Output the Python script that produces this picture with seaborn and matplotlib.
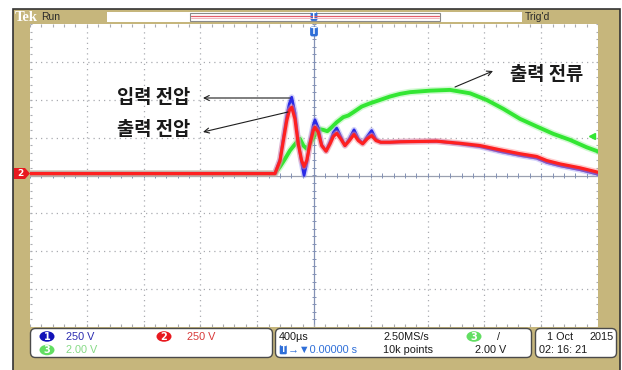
import numpy as np
import pandas as pd
import matplotlib
matplotlib.use("Agg")
import matplotlib.pyplot as plt
from matplotlib.patches import Rectangle, FancyBboxPatch, Ellipse, Polygon
import seaborn as sns

# ---- acquisition settings -------------------------------------------------
TIME_PER_DIV = 400          # µs / div
CH12_SCALE = 250.0          # V / div  (channels 1 and 2)
CH3_SCALE = 2.0             # V / div  (channel 3, current probe)
GROUND_DIV = 0.05           # ground reference, divisions above centre
CH3_TRIGGER_LEVEL = 2.00    # V

# ---- captured waveforms ---------------------------------------------------
# time axis shared by channel 1 (input voltage) and channel 2 (output voltage), µs
t_volt = [-2000, -275, -239, -216, -192, -174, -157, -134, -111, -87, -70, -51,
          -28, -5, 7, 30, 54, 85, 113, 136, 160, 188, 218, 249, 282, 312, 343,
          375, 406, 437, 470, 535, 606, 723, 864, 1028, 1169, 1310, 1451, 1568,
          1639, 1732, 1873, 2000]
# channel 1: input voltage, V
ch1_input_v = [0, 0, 95, 235, 380, 460, 504, 400, 210, 70, -12, 70,
               210, 320, 355, 300, 190, 150, 210, 270, 300, 245, 185, 230, 289, 230, 200,
               245, 284, 225, 207, 207, 210, 212, 214, 196, 178, 146, 120, 102,
               74, 52, 26, -4]
# channel 2: output voltage, V
ch2_output_v = [0, 0, 86, 218, 350, 416, 438, 361, 197, 86, 47, 86,
                197, 284, 306, 273, 185, 148, 197, 245, 266, 230, 185, 218, 258, 218, 197,
                230, 251, 218, 207, 207, 210, 212, 214, 200, 185, 157, 131, 113,
                86, 64, 38, 9]
# channel 3: output current (probe output), V
t_curr = [-2000, -275, -239, -204, -169, -122, -99, -75, -51, -28, 7, 30, 65, 94,
          125, 160, 206, 242, 277, 336, 394, 465, 535, 606, 676, 817, 958, 1099,
          1216, 1333, 1451, 1568, 1685, 1803, 1920, 2000]
ch3_current_v = [0, 0, 0.37, 0.78, 1.22, 1.66, 1.84, 1.48, 1.31, 1.57, 2.06, 2.36, 2.31, 2.24,
                 2.45, 2.71, 2.98, 3.07, 3.24, 3.54, 3.71, 3.89, 4.07, 4.21, 4.30, 4.38, 4.42, 4.24,
                 3.89, 3.42, 2.89, 2.49, 2.10, 1.78, 1.39, 1.17]

# ---- fonts ----------------------------------------------------------------
sns.set_theme(style="white")
KOR = ["Noto Sans CJK KR", "DejaVu Sans"]
UI = ["Liberation Sans", "DejaVu Sans"]
plt.rcParams["font.family"] = KOR

TAN = "#C6B67C"
RED, RED_HALO = "#FF2020", "#FF8C8C"
BLUE, BLUE_HALO = "#2A2AE6", "#9A9AF4"
GREEN, GREEN_HALO = "#33E633", "#9CF29C"

fig = plt.figure(figsize=(6.22, 3.70), dpi=100)
fig.patch.set_facecolor("white")

# pixel-space canvas for the instrument bezel
bg = fig.add_axes([0, 0, 1, 1])
bg.set_xlim(0, 622)
bg.set_ylim(370, 0)
bg.axis("off")

bg.add_patch(Rectangle((13, 9), 607, 380, facecolor=TAN, edgecolor="#333333", lw=1.2))

# top status bar
bg.text(15, 17.5, "Tek", color="white", fontsize=10.5, fontweight="bold",
        family=["Liberation Serif", "DejaVu Serif"], va="center", ha="left")
bg.text(41, 16.5, "Run", color="#2a2a2a", fontsize=7.5, family=UI, va="center", ha="left")
bg.add_patch(Rectangle((107, 11.5), 415, 10, facecolor="white", edgecolor="none"))
bg.add_patch(Rectangle((190, 12.5), 250, 8, facecolor="white", edgecolor="#8a8a8a", lw=0.8))
bg.plot([191, 439], [15.5, 15.5], color="#E35C6A", lw=0.9)
bg.plot([191, 439], [18.0, 18.0], color="#F2B5BC", lw=0.7)
bg.add_patch(FancyBboxPatch((311, 12.5), 6, 8, boxstyle="round,pad=0.4,rounding_size=1.5",
                            facecolor="#2F6FD8", edgecolor="none"))
bg.text(314, 16.5, "T", color="white", fontsize=5.5, fontweight="bold", ha="center",
        va="center", family="DejaVu Sans")
bg.text(525, 16.5, "Trig'd", color="#2a2a2a", fontsize=7.5, family=UI, va="center", ha="left")

# ---- waveform area ----------------------------------------------------------
L, T_, R, B = 30, 24, 598, 327
ax = fig.add_axes([L / 622, 1 - B / 370, (R - L) / 622, (B - T_) / 370])
ax.set_facecolor("white")
ax.set_xlim(-5 * TIME_PER_DIV, 5 * TIME_PER_DIV)
ax.set_ylim(-4, 4)
for s in ax.spines.values():
    s.set_visible(False)
ax.set_xticks([])
ax.set_yticks([])

GRID = "#A9ABB0"
for k in range(-4, 5):
    if k:
        ax.axvline(k * TIME_PER_DIV, color=GRID, lw=0.9, ls=(0, (1, 3.2)), zorder=0)
for k in range(-3, 4):
    if k:
        ax.axhline(k, color=GRID, lw=0.9, ls=(0, (1, 3.2)), zorder=0)
ax.axvline(0, color="#8391B5", lw=0.9, zorder=0)
ax.axhline(0, color="#9AA0B0", lw=0.9, zorder=0)

minor_t = np.arange(-5 * TIME_PER_DIV, 5 * TIME_PER_DIV + 1, TIME_PER_DIV / 5)
minor_y = np.arange(-4, 4.001, 0.2)
ax.vlines(minor_t, -0.07, 0.07, color="#8391B5", lw=0.7, zorder=0)
ax.hlines(minor_y, -14, 14, color="#8391B5", lw=0.7, zorder=0)
ax.vlines(minor_t, 3.91, 4, color=GRID, lw=0.8, zorder=0)
ax.vlines(minor_t, -4, -3.91, color=GRID, lw=0.8, zorder=0)
ax.hlines(minor_y, -2000, -1985, color=GRID, lw=0.8, zorder=0)
ax.hlines(minor_y, 1985, 2000, color=GRID, lw=0.8, zorder=0)


def trace(t, v, scale, color, halo, lw=2.3):
    d = pd.DataFrame({"t": t, "div": np.asarray(v, dtype=float) / scale + GROUND_DIV})
    sns.lineplot(data=d, x="t", y="div", ax=ax, color=halo, linewidth=lw + 2.2, alpha=0.45,
                 sort=False, estimator=None, legend=False,
                 solid_joinstyle="round", solid_capstyle="round")
    sns.lineplot(data=d, x="t", y="div", ax=ax, color=color, linewidth=lw,
                 sort=False, estimator=None, legend=False,
                 solid_joinstyle="round", solid_capstyle="round")


trace(t_curr, ch3_current_v, CH3_SCALE, GREEN, GREEN_HALO, lw=2.8)
trace(t_volt, ch1_input_v, CH12_SCALE, BLUE, BLUE_HALO, lw=2.0)
trace(t_volt, ch2_output_v, CH12_SCALE, RED, RED_HALO, lw=2.3)
ax.set_xlabel("")
ax.set_ylabel("")
ax.set_xlim(-5 * TIME_PER_DIV, 5 * TIME_PER_DIV)
ax.set_ylim(-4, 4)

# channel 3 trigger level marker
ax.plot([1960], [CH3_TRIGGER_LEVEL / CH3_SCALE + GROUND_DIV], marker="<", ms=4,
        color=GREEN, mec=GREEN, ls="none", clip_on=False)

# ---- overlay in pixel space (markers, annotations, readouts) ----------------
ov = fig.add_axes([0, 0, 1, 1])
ov.set_xlim(0, 622)
ov.set_ylim(370, 0)
ov.axis("off")
ov.patch.set_alpha(0)

# trigger position marker
ov.add_patch(FancyBboxPatch((310.5, 27), 7, 9, boxstyle="round,pad=0.4,rounding_size=2",
                            facecolor="#2F6FD8", edgecolor="none"))
ov.text(314, 31.5, "T", color="white", fontsize=6, fontweight="bold", ha="center",
        va="center", family="DejaVu Sans")

# channel 2 ground marker
ov.add_patch(Polygon([(14, 168), (25, 168), (30, 173.5), (25, 179), (14, 179)],
                     closed=True, facecolor="#E8191F", edgecolor="none"))
ov.text(20, 173.8, "2", color="white", fontsize=6.5, fontweight="bold", ha="center",
        va="center", family="DejaVu Sans")

# annotations
arrow = dict(arrowstyle="->", color="#1e1e1e", lw=0.8, shrinkA=0, shrinkB=0,
             mutation_scale=9)
ov.annotate("", xy=(203, 98), xytext=(290, 98), arrowprops=arrow)
ov.annotate("", xy=(203, 132), xytext=(288, 112), arrowprops=arrow)
ov.annotate("", xy=(493, 71), xytext=(455, 87), arrowprops=arrow)
label_kw = dict(ha="center", va="center", fontsize=13.5, fontweight="bold",
                color="#1a1a1a", family=KOR)
ov.text(153.5, 97.5, "입력 전압", **label_kw)
ov.text(153.5, 129.5, "출력 전압", **label_kw)
ov.text(546.5, 74.5, "출력 전류", **label_kw)

# bottom readout panels
for x0, x1 in [(30, 273), (275, 532), (535, 617)]:
    ov.add_patch(FancyBboxPatch((x0 + 2, 330), x1 - x0 - 4, 26,
                                boxstyle="round,pad=1.5,rounding_size=5",
                                facecolor="white", edgecolor="#4a4a4a", lw=1.0))

ROW1, ROW2 = 336.5, 350


def badge(x, y, n, color):
    ov.add_patch(Ellipse((x, y), 15, 10.5, facecolor=color, edgecolor="none"))
    ov.text(x, y + 0.3, n, color="white", fontsize=7, fontweight="bold",
            ha="center", va="center", family="DejaVu Sans")


txt = dict(fontsize=7.8, family=UI, va="center", ha="left")
badge(47, ROW1, "1", "#1212B8")
ov.text(66, ROW1, "250 V", color="#2B2BB0", **txt)
badge(164, ROW1, "2", "#E8191F")
ov.text(187, ROW1, "250 V", color="#D83838", **txt)
badge(47, ROW2, "3", "#62DE62")
ov.text(66, ROW2, "2.00 V", color="#86DA86", **txt)

ov.text(279, ROW1, "400µs", color="#1a1a1a", **txt)
ov.add_patch(FancyBboxPatch((280, 345.5), 6.5, 8.5, boxstyle="round,pad=0.3,rounding_size=1.2",
                            facecolor="#2F6FD8", edgecolor="none"))
ov.text(283.3, 349.8, "T", color="white", fontsize=5.5, fontweight="bold",
        ha="center", va="center", family="DejaVu Sans")
ov.text(288, ROW2, "→▼0.00000 s", color="#2F6FD8", fontsize=7.8,
        family=["Liberation Sans", "DejaVu Sans"], va="center", ha="left")
ov.text(383, ROW1, "2.50MS/s", color="#1a1a1a", **txt)
ov.text(383, ROW2, "10k points", color="#1a1a1a", **txt)
badge(474, ROW1, "3", "#62DE62")
ov.text(497, ROW1, "/", color="#1a1a1a", **txt)
ov.text(475, ROW2, "2.00 V", color="#1a1a1a", **txt)

ov.text(547, ROW1, "1 Oct", color="#1a1a1a", **txt)
ov.text(614, ROW1, "2015", color="#1a1a1a", fontsize=7.8, family=UI, va="center", ha="right")
ov.text(539, ROW2, "02: 16: 21", color="#1a1a1a", **txt)

fig.savefig("out.png", dpi=100, facecolor="white")
